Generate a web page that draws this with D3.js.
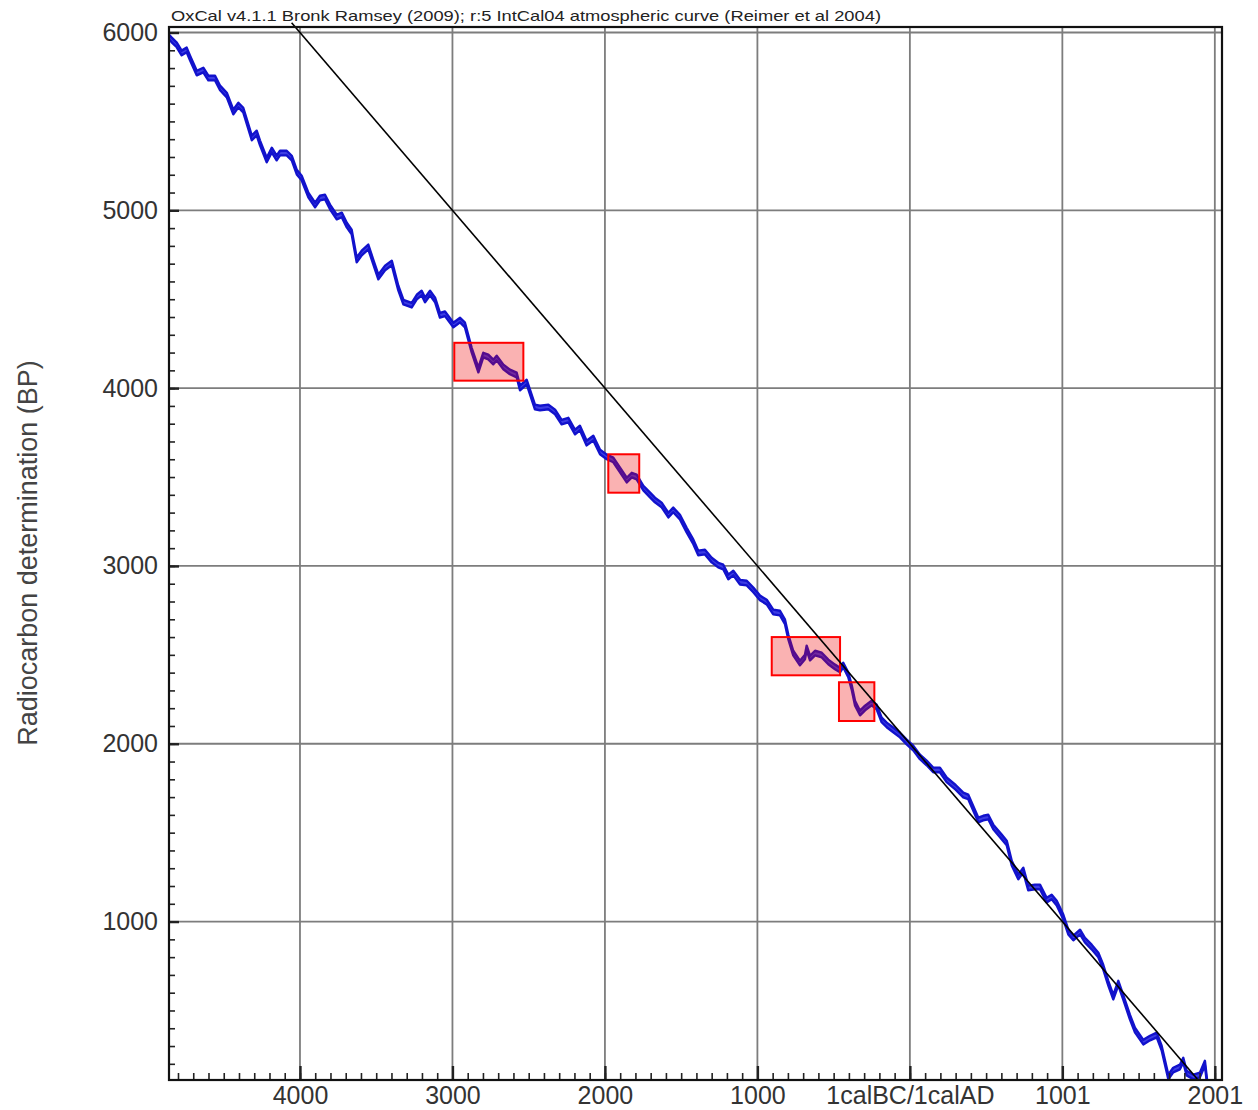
<!DOCTYPE html>
<html>
<head>
<meta charset="utf-8">
<script src="https://cdn.jsdelivr.net/npm/d3@7"></script>
<style>
  html, body { margin: 0; padding: 0; background: #ffffff; }
  svg { display: block; font-family: "Liberation Sans", Arial, sans-serif; }
</style>
</head>
<body>
<svg id="chart" width="1258" height="1110"></svg>
<script>
// ---------------- DATA ----------------
const titleText = "OxCal v4.1.1 Bronk Ramsey (2009); r:5 IntCal04 atmospheric curve (Reimer et al 2004)";
const yAxisLabel = "Radiocarbon determination (BP)";

// x tick positions (cal years, BC negative; 0 = 1calBC/1calAD boundary) and labels
const xTickValues = [-4000, -3000, -2000, -1000, 0, 1000, 2000];
const xTickLabels = ["4000", "3000", "2000", "1000", "1calBC/1calAD", "1001", "2001"];
const yTickValues = [1000, 2000, 3000, 4000, 5000, 6000];
const yTickLabels = ["1000", "2000", "3000", "4000", "5000", "6000"];

const xDomain = [-4859, 2047];
const yDomain = [109, 6031];

// IntCal04 calibration curve
const calYear = [
  -4860, -4841, -4808, -4776, -4743, -4721, -4677, -4634, -4601, -4557, -4524, -4480, -4437, -4404, -4372,
  -4316, -4284, -4262, -4218, -4185, -4153, -4131, -4087, -4054, -4021, -3989, -3945, -3901, -3869, -3836,
  -3803, -3759, -3726, -3693, -3661, -3628, -3595, -3552, -3519, -3486, -3442, -3398, -3355, -3322, -3267,
  -3234, -3202, -3180, -3147, -3114, -3082, -3049, -2994, -2950, -2918, -2874, -2830, -2798, -2765, -2732,
  -2710, -2666, -2623, -2579, -2557, -2513, -2459, -2426, -2371, -2327, -2284, -2240, -2196, -2164, -2120,
  -2076, -2032, -1988, -1945, -1901, -1857, -1824, -1792, -1748, -1704, -1672, -1628, -1584, -1552, -1508,
  -1464, -1420, -1388, -1344, -1300, -1257, -1224, -1191, -1158, -1114, -1070, -1027, -983, -939, -896,
  -852, -819, -797, -765, -721, -688, -677, -655, -622, -578, -535, -491, -458, -437, -404,
  -382, -360, -327, -294, -251, -218, -185, -152, -109, -65, -21, 22, 66, 110, 153,
  197, 241, 300, 350, 383, 449, 481, 514, 547, 602, 635, 668, 711, 744, 776,
  820, 853, 897, 930, 963, 1006, 1039, 1072, 1116, 1148, 1192, 1236, 1268, 1301, 1334,
  1367, 1399, 1443, 1476, 1531, 1575, 1619, 1651, 1695, 1727, 1771, 1793, 1815, 1859, 1902,
  1935, 1950
];
const bp = [
  5975, 5958, 5930, 5885, 5902, 5857, 5772, 5789, 5744, 5744, 5688, 5648, 5553, 5592, 5564,
  5407, 5435, 5379, 5283, 5339, 5294, 5322, 5322, 5294, 5215, 5182, 5086, 5030, 5069, 5075,
  5019, 4962, 4974, 4917, 4878, 4721, 4760, 4794, 4709, 4625, 4676, 4704, 4563, 4484, 4467,
  4512, 4535, 4496, 4535, 4496, 4410, 4418, 4355, 4383, 4355, 4214, 4102, 4186, 4175, 4147,
  4169, 4119, 4091, 4074, 4001, 4034, 3894, 3888, 3894, 3866, 3809, 3820, 3753, 3776, 3691,
  3719, 3641, 3613, 3596, 3540, 3483, 3511, 3500, 3438, 3399, 3371, 3343, 3286, 3315, 3275,
  3202, 3135, 3073, 3078, 3033, 3005, 2994, 2938, 2960, 2909, 2904, 2865, 2820, 2797, 2741,
  2735, 2685, 2600, 2510, 2454, 2488, 2539, 2482, 2510, 2499, 2460, 2432, 2415, 2443, 2387,
  2319, 2229, 2173, 2201, 2229, 2207, 2134, 2106, 2078, 2049, 2010, 1976, 1926, 1892, 1853,
  1853, 1797, 1755, 1712, 1701, 1571, 1582, 1588, 1532, 1476, 1442, 1329, 1251, 1290, 1189,
  1195, 1195, 1121, 1138, 1104, 1026, 941, 908, 941, 896, 857, 812, 744, 654, 575,
  654, 575, 463, 390, 322, 345, 362, 289, 126, 165, 182, 221, 148, 126, 137,
  204, 90
];
const curveSigma = 13;

// highlighted ranges (cal year start/end, BP low/high)
const boxYearStart = [-2988, -1978, -906, -465];
const boxYearEnd   = [-2535, -1775, -458, -233];
const boxBpLow     = [4042, 3412, 2385, 2128];
const boxBpHigh    = [4255, 3628, 2600, 2346];

// reference diagonal (BP = 2000 - year)
const diagYear = [-4055, 1885];
const diagBp   = [6055, 115];

// ---------------- DRAW ----------------
const svg = d3.select("#chart");
const L = 169, R = 1222, T = 27, B = 1080;

const x = d3.scaleLinear().domain(xDomain).range([L, R]);
const y = d3.scaleLinear().domain(yDomain).range([B, T]);

svg.append("defs").append("clipPath").attr("id", "plotclip")
  .append("rect").attr("x", L).attr("y", T).attr("width", R - L).attr("height", B - T);

// gridlines
const grid = svg.append("g");
grid.selectAll("line.vg").data(xTickValues).join("line")
  .attr("x1", d => x(d)).attr("x2", d => x(d)).attr("y1", T).attr("y2", B)
  .attr("stroke", "#7d7d7d").attr("stroke-width", 1.8);
grid.selectAll("line.hg").data(yTickValues).join("line")
  .attr("y1", d => y(d)).attr("y2", d => y(d)).attr("x1", L).attr("x2", R)
  .attr("stroke", "#7d7d7d").attr("stroke-width", 1.8);

// curve band
const pts = calYear.map((c, i) => ({ c, b: bp[i] }));
const plot = svg.append("g").attr("clip-path", "url(#plotclip)");
plot.append("path").datum(pts)
  .attr("d", d3.area().x(d => x(d.c)).y0(d => y(d.b - curveSigma)).y1(d => y(d.b + curveSigma)))
  .attr("fill", "#3d3de4");
[curveSigma, -curveSigma].forEach(s => {
  plot.append("path").datum(pts)
    .attr("d", d3.line().x(d => x(d.c)).y(d => y(d.b + s)))
    .attr("fill", "none").attr("stroke", "#1212cc").attr("stroke-width", 2.4)
    .attr("stroke-linejoin", "round");
});

// boxes
svg.append("g").selectAll("rect").data(boxYearStart).join("rect")
  .attr("x", (d, i) => x(boxYearStart[i]))
  .attr("y", (d, i) => y(boxBpHigh[i]))
  .attr("width", (d, i) => x(boxYearEnd[i]) - x(boxYearStart[i]))
  .attr("height", (d, i) => y(boxBpLow[i]) - y(boxBpHigh[i]))
  .attr("fill", "rgba(240,0,0,0.3)")
  .attr("stroke", "#ff0000").attr("stroke-width", 2);

// diagonal
svg.append("line")
  .attr("x1", x(diagYear[0])).attr("y1", y(diagBp[0]))
  .attr("x2", x(diagYear[1])).attr("y2", y(diagBp[1]))
  .attr("stroke", "#000").attr("stroke-width", 1.6);

// axes
const tickColor = "#222";
const yMinor = d3.range(200, 6001, 100);
const xMinor = d3.range(-4800, 2001, 100);

const gyMinor = svg.append("g").attr("transform", `translate(${L},0)`)
  .call(d3.axisLeft(y).tickValues(yMinor).tickSize(-6).tickFormat(""));
const gyMajor = svg.append("g").attr("transform", `translate(${L},0)`)
  .call(d3.axisLeft(y).tickValues(yTickValues).tickSize(-10).tickPadding(11)
    .tickFormat((d, i) => yTickLabels[i]));
const gxMinor = svg.append("g").attr("transform", `translate(0,${B})`)
  .call(d3.axisBottom(x).tickValues(xMinor).tickSize(-7).tickFormat(""));
const gxMajor = svg.append("g").attr("transform", `translate(0,${B})`)
  .call(d3.axisBottom(x).tickValues(xTickValues).tickSize(-14).tickPadding(6)
    .tickFormat((d, i) => xTickLabels[i]));

[gyMinor, gyMajor, gxMinor, gxMajor].forEach(g => {
  g.select(".domain").remove();
  g.selectAll(".tick line").attr("stroke", tickColor).attr("stroke-width", 1.6);
  g.selectAll(".tick text").attr("fill", "#333").attr("font-size", 25)
    .attr("font-family", "'Liberation Sans', Arial, sans-serif");
});
gyMajor.selectAll(".tick line").attr("stroke-width", 2.4);
gxMajor.selectAll(".tick line").attr("stroke-width", 2.4);

// frame
svg.append("rect").attr("x", L).attr("y", T).attr("width", R - L).attr("height", B - T)
  .attr("fill", "none").attr("stroke", "#111").attr("stroke-width", 2.2);

// title
svg.append("text").attr("x", 171).attr("y", 21)
  .attr("font-size", 15).attr("fill", "#222")
  .attr("textLength", 710).attr("lengthAdjust", "spacingAndGlyphs")
  .text(titleText);

// y-axis label
svg.append("text")
  .attr("transform", `translate(28,553) rotate(-90)`)
  .attr("text-anchor", "middle").attr("dy", "0.35em")
  .attr("font-size", 27).attr("fill", "#444")
  .text(yAxisLabel);
</script>
</body>
</html>
